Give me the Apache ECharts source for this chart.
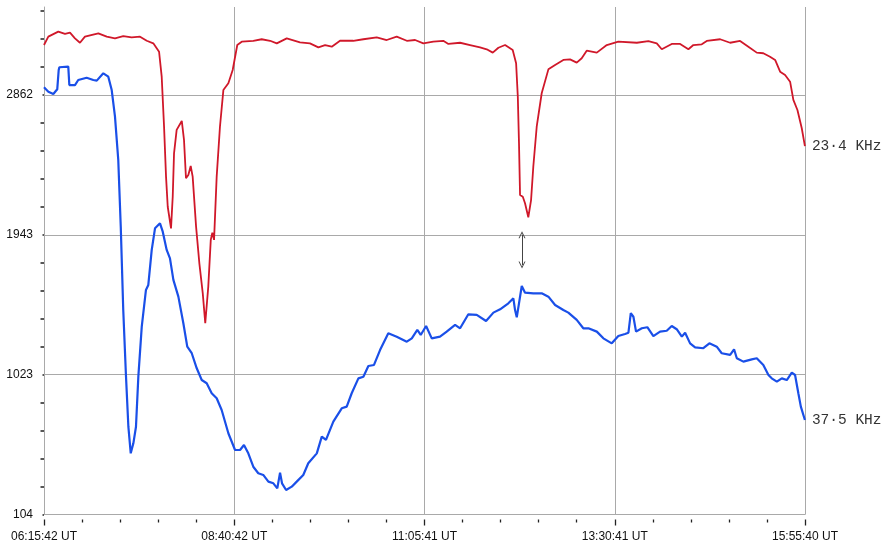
<!DOCTYPE html>
<html><head><meta charset="utf-8">
<script src="https://cdn.jsdelivr.net/npm/echarts@6/dist/echarts.min.js"></script>
<style>html,body{margin:0;padding:0;background:#fff}#c{width:887px;height:550px}</style>
</head><body><div id="c"></div>
<script>
// ---- data (minutes elapsed since 06:15:42 UT, signal amplitude) ----
const startUT = '06:15:42';
const xTickLabels = ['06:15:42 UT', '08:40:42 UT', '11:05:41 UT', '13:30:41 UT', '15:55:40 UT'];
const yTickValues = [104, 1023.33, 1942.67, 2862];
const yTickLabels = ['104', '1023', '1943', '2862'];
const yMin = 104, yMax = 3440;

const redMinutes = [0,3.3,10.9,16.0,19.8,23.6,27.4,31.2,41.4,47.8,54.1,60.4,66.8,73.2,78.3,83.3,87.7,89.7,91.5,93.0,94.3,96.8,98.1,99.1,101.1,105.0,106.7,108.2,110.0,111.8,113.3,115.9,118.4,121.0,122.9,125.2,127.1,128.3,129.6,131.6,134.1,136.7,140.5,143.8,147.3,150.7,159.5,165.9,172.3,177.4,185.0,195.1,202.7,209.1,214.2,219.3,225.6,235.7,243.4,253.6,261.2,268.8,276.5,282.8,289.1,296.7,304.3,308.2,317.1,324.7,332.3,337.4,342.0,346.3,351.4,357.2,359.8,361.1,362.0,362.8,364.9,366.6,369.1,371.2,372.9,375.5,379.3,384.4,389.5,395.8,400.9,406.0,409.8,413.6,421.3,428.9,437.7,451.8,460.6,467.0,470.8,478.4,484.8,491.1,494.9,501.3,505.1,515.3,522.9,530.5,536.8,543.2,548.2,553.3,557.2,561.0,564.8,568.6,571.1,574.2,577.5,579.9];
const redValues = [3190,3245,3278,3263,3271,3234,3205,3245,3267,3245,3234,3249,3241,3245,3218,3201,3146,2982,2653,2325,2127,1985,2193,2478,2632,2691,2566,2314,2336,2395,2325,1996,1755,1558,1361,1602,1909,1957,1909,2325,2653,2894,2939,3026,3190,3212,3218,3228,3218,3201,3234,3208,3201,3175,3190,3179,3218,3218,3228,3241,3223,3245,3218,3223,3201,3212,3218,3197,3205,3190,3175,3162,3140,3172,3190,3157,3070,2850,2544,2204,2193,2150,2058,2171,2390,2653,2873,3030,3059,3092,3096,3074,3103,3153,3140,3190,3212,3205,3215,3201,3162,3197,3197,3162,3190,3195,3217,3228,3205,3217,3179,3140,3136,3113,3092,3015,2993,2949,2829,2763,2643,2526];

const blueMinutes = [0,3.3,7.1,10.1,11.2,11.7,18.5,19.3,23.6,26.1,32.5,37.6,40.2,45.2,49.0,51.6,54.1,56.6,58.5,60.4,62.5,64.3,66.1,68.1,70.1,71.9,74.5,77.7,79.5,82.1,84.6,88.4,90.5,93.5,96.0,98.6,102.4,106.2,109.2,112.6,116.4,120.2,124.0,127.8,131.6,135.4,140.5,145.6,149.4,152.4,155.7,159.5,163.3,167.1,171.0,174.8,177.8,179.9,181.4,184.5,188.8,192.6,197.6,201.4,207.9,211.7,214.9,220.5,226.9,230.7,234.5,239.6,243.4,247.2,251.5,256.1,262.4,268.8,276.5,280.3,284.5,287.1,291.2,295.5,301.8,306.9,313.3,317.1,323.4,329.8,336.9,342.5,347.6,353.9,357.7,359.0,360.3,362.0,364.1,366.6,372.9,379.3,384.4,389.5,395.8,399.6,406.0,411.0,414.9,421.3,426.3,432.7,437.7,442.8,445.4,447.2,449.2,451.2,455.6,459.8,464.4,469.5,474.6,478.4,482.2,486.1,488.6,492.4,496.2,502.5,507.1,512.7,516.5,522.9,525.9,528.0,533.0,539.4,543.2,548.2,552.1,554.6,558.5,562.3,566.1,569.9,572.4,574.9,576.8,579.9];
const blueValues = [2912,2883,2868,2899,3026,3044,3048,2927,2927,2960,2975,2960,2956,3004,2982,2894,2719,2434,1996,1448,1010,681,506,572,681,1010,1339,1580,1613,1843,1985,2018,1963,1843,1788,1646,1536,1361,1207,1164,1065,988,967,901,868,791,638,528,528,561,506,418,375,364,320,309,276,379,309,265,287,320,364,441,506,616,594,714,802,813,901,999,1010,1080,1087,1185,1295,1273,1240,1262,1317,1284,1343,1262,1273,1306,1350,1328,1420,1416,1376,1431,1453,1492,1525,1448,1400,1492,1606,1562,1558,1558,1536,1481,1448,1431,1383,1328,1328,1306,1262,1229,1277,1291,1299,1427,1404,1306,1328,1335,1277,1306,1312,1343,1322,1273,1299,1229,1203,1197,1229,1207,1164,1153,1190,1131,1109,1124,1131,1087,1021,999,977,999,988,1036,1021,901,813,725];

const redLabel = '23·4 KHz';
const blueLabel = '37·5 KHz';
const arrowMinute = 364.3;
const arrowValues = [1943, 1744];

// ---- derived ----
function secs(s) { const p = s.split(':').map(Number); return p[0] * 3600 + p[1] * 60 + p[2]; }
const xTickValues = xTickLabels.map(l => (secs(l.replace(' UT', '')) - secs(startUT)) / 60);
const xMin = xTickValues[0], xMax = xTickValues[xTickValues.length - 1];
const xMinor = [];
for (let i = 0; i < xTickValues.length - 1; i++) {
  const a = xTickValues[i], b = xTickValues[i + 1];
  for (let k = 1; k < 5; k++) xMinor.push(a + (b - a) * k / 5);
}
const yMinor = [];
const yStep = (yTickValues[1] - yTickValues[0]) / 5;
for (let v = yTickValues[0] + yStep, k = 1; v < yMax; v += yStep, k++) {
  if (k % 5 !== 0) yMinor.push(v);
}
const zipPts = (xs, ys) => xs.map((x, i) => [x, ys[i]]);

const gridGray = '#a9a9a9';
const fontFam = '"Liberation Sans", Arial, sans-serif';

function tickAxisX(values, len) {
  return { type: 'value', min: xMin, max: xMax, position: 'bottom', offset: 5,
    axisLine: { show: false }, axisLabel: { show: false }, splitLine: { show: false },
    axisTick: { show: true, customValues: values, length: len, inside: false, lineStyle: { color: '#222', width: 1.3 } } };
}
function tickAxisY(values, len, w) {
  return { type: 'value', min: yMin, max: yMax, position: 'left', offset: 5,
    axisLine: { show: false }, axisLabel: { show: false }, splitLine: { show: false },
    axisTick: { show: true, customValues: values, length: len, inside: false, lineStyle: { color: '#222', width: w } } };
}

const chart = echarts.init(document.getElementById('c'), null, { renderer: 'canvas' });
chart.setOption({
  animation: false,
  backgroundColor: '#fff',
  grid: { left: 44, right: 82, top: 7, bottom: 35.5, containLabel: false, outerBoundsMode: 'none' },
  xAxis: [
    { type: 'value', min: xMin, max: xMax, position: 'bottom',
      axisLine: { show: true, onZero: false, lineStyle: { color: gridGray, width: 1 } },
      axisTick: { show: false, customValues: xTickValues },
      axisLabel: { show: true, customValues: xTickValues, margin: 16, fontFamily: fontFam, fontSize: 12, color: '#111',
        formatter: v => { let bi = 0; xTickValues.forEach((t, i) => { if (Math.abs(t - v) < Math.abs(xTickValues[bi] - v)) bi = i; }); return xTickLabels[bi]; } },
      splitLine: { show: true, lineStyle: { color: gridGray, width: 1 } } },
    tickAxisX(xTickValues, 6),
    tickAxisX(xMinor, 3)
  ],
  yAxis: [
    { type: 'value', min: yMin, max: yMax, position: 'left',
      axisLine: { show: true, onZero: false, lineStyle: { color: gridGray, width: 1 } },
      axisTick: { show: false, customValues: yTickValues },
      axisLabel: { show: true, customValues: yTickValues, margin: 11, fontFamily: fontFam, fontSize: 12, color: '#111',
        formatter: v => { let bi = 0; yTickValues.forEach((t, i) => { if (Math.abs(t - v) < Math.abs(yTickValues[bi] - v)) bi = i; }); return yTickLabels[bi]; } },
      splitLine: { show: true, lineStyle: { color: gridGray, width: 1 } } },
    tickAxisY(yMinor, 3.5, 1.5),
    tickAxisY(yTickValues, 1.5, 1.5)
  ],
  series: [
    { type: 'line', name: redLabel, data: zipPts(redMinutes, redValues), xAxisIndex: 0, yAxisIndex: 0,
      showSymbol: false, symbol: 'none', lineStyle: { color: '#d0182a', width: 1.8 }, itemStyle: { color: '#d0182a' },
      endLabel: { show: true, formatter: redLabel, distance: 7, fontFamily: '"Liberation Mono", monospace', fontSize: 14.5, color: '#333' } },
    { type: 'line', name: blueLabel, data: zipPts(blueMinutes, blueValues), xAxisIndex: 0, yAxisIndex: 0,
      showSymbol: false, symbol: 'none', lineStyle: { color: '#1a4fe8', width: 2.2 }, itemStyle: { color: '#1a4fe8' },
      endLabel: { show: true, formatter: blueLabel, distance: 7, fontFamily: '"Liberation Mono", monospace', fontSize: 14.5, color: '#333' },
      markLine: { silent: true, animation: false,
        symbol: ['path://M0,10 L5,0 L10,10 L8.6,10 L5,2.8 L1.4,10 Z', 'path://M0,10 L5,0 L10,10 L8.6,10 L5,2.8 L1.4,10 Z'],
        symbolSize: [7, 7],
        label: { show: false },
        lineStyle: { color: '#444', width: 1, type: 'solid' },
        data: [[{ coord: [arrowMinute, arrowValues[0]] }, { coord: [arrowMinute, arrowValues[1]] }]] } }
  ]
});
</script>
</body></html>
